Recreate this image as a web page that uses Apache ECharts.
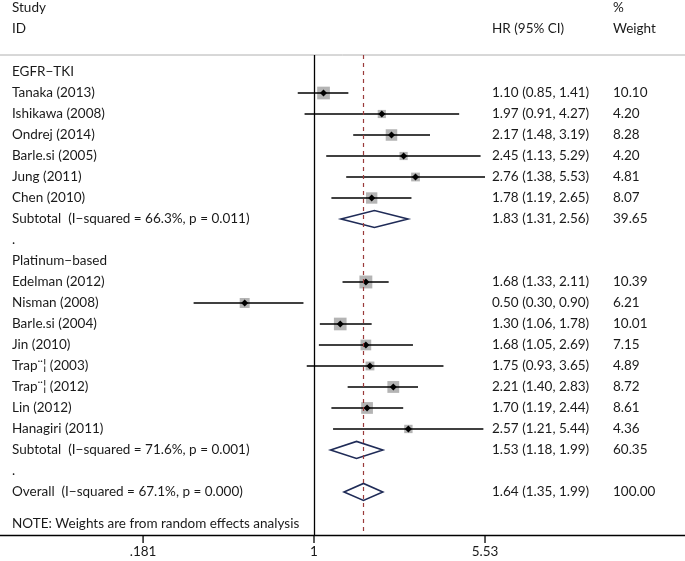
<!DOCTYPE html>
<html><head><meta charset="utf-8">
<script src="https://cdn.jsdelivr.net/npm/echarts@6/dist/echarts.min.js"></script>
<style>html,body{margin:0;padding:0;background:#fff}#c{width:685px;height:561px}</style>
</head><body><div id="c"></div>
<script>
const labels = ["EGFR\u2212TKI","Tanaka (2013)","Ishikawa (2008)","Ondrej (2014)","Barle.si (2005)","Jung (2011)","Chen (2010)",
  "Subtotal  (I\u2212squared = 66.3%, p = 0.011)",".","Platinum\u2212based","Edelman (2012)","Nisman (2008)","Barle.si (2004)",
  "Jin (2010)","Trap\u00a8\u00a6 (2003)","Trap\u00a8\u00a6 (2012)","Lin (2012)","Hanagiri (2011)",
  "Subtotal  (I\u2212squared = 71.6%, p = 0.001)",".","Overall  (I\u2212squared = 67.1%, p = 0.000)"];
const rowTypes = ["group","study","study","study","study","study","study","subtotal","blank","group",
  "study","study","study","study","study","study","study","study","subtotal","blank","overall"];
const hr = [null,1.10,1.97,2.17,2.45,2.76,1.78,1.83,null,null,1.68,0.50,1.30,1.68,1.75,2.21,1.70,2.57,1.53,null,1.64];
const lo = [null,0.85,0.91,1.48,1.13,1.38,1.19,1.31,null,null,1.33,0.30,1.06,1.05,0.93,1.40,1.19,1.21,1.18,null,1.35];
const hi = [null,1.41,4.27,3.19,5.29,5.53,2.65,2.56,null,null,2.11,0.90,1.78,2.69,3.65,2.83,2.44,5.44,1.99,null,1.99];
const weights = [null,10.10,4.20,8.28,4.20,4.81,8.07,39.65,null,null,10.39,6.21,10.01,7.15,4.89,8.72,8.61,4.36,60.35,null,100.00];
const tickValues = [0.181, 1, 5.53];
const tickLabels = [".181", "1", "5.53"];
const noteText = "NOTE: Weights are from random effects analysis";
const overallHR = 1.64;
const noteRow = 21.5;

const FONT_FAMILY = 'Lato';
const FS = 13.5;
const TXT = '#1a1a1a';
const X_LABEL = 12, X_HR = 492, X_W = 613;
const Y_MIN = -0.81, Y_MAX = 22.05;

const chart = echarts.init(document.getElementById('c'), null, {renderer: 'canvas'});

const data = labels.map((l, i) => [hr[i] != null ? Math.log(hr[i]) : 0, i]);
data.push([0, noteRow]);

function txt(text, x, y) {
  return {type: 'text', style: {text: text, x: x, y: y, textAlign: 'left', textVerticalAlign: 'middle',
    fontFamily: FONT_FAMILY, fontSize: FS, fill: TXT}};
}

function renderItem(params, api) {
  const i = params.dataIndex;
  const children = [];
  if (i >= labels.length) {
    const y = api.coord([0, noteRow])[1];
    children.push(txt(noteText, X_LABEL, y));
    return {type: 'group', children: children};
  }
  const y = api.coord([0, i])[1];
  children.push(txt(labels[i], X_LABEL, y));
  if (hr[i] != null) {
    children.push(txt(hr[i].toFixed(2) + ' (' + lo[i].toFixed(2) + ', ' + hi[i].toFixed(2) + ')', X_HR, y));
    children.push(txt(weights[i].toFixed(2), X_W, y));
    const pM = api.coord([Math.log(hr[i]), i])[0];
    const pL = api.coord([Math.log(lo[i]), i])[0];
    const pH = api.coord([Math.log(hi[i]), i])[0];
    if (rowTypes[i] === 'study') {
      const s = 4 * Math.sqrt(weights[i]);
      children.push({type: 'rect', shape: {x: pM - s / 2, y: y - s / 2, width: s, height: s},
        style: {fill: '#b4b4b4'}});
      children.push({type: 'line', shape: {x1: pL, y1: y, x2: pH, y2: y},
        style: {stroke: '#000', lineWidth: 1.6}});
      children.push({type: 'polygon', shape: {points: [[pM - 3.5, y], [pM, y - 3.5], [pM + 3.5, y], [pM, y + 3.5]]},
        style: {fill: '#000'}});
    } else {
      children.push({type: 'polygon', shape: {points: [[pL, y], [pM, y - 8.5], [pH, y], [pM, y + 8.5]]},
        style: {fill: 'rgba(255,255,255,0)', stroke: '#1f2b57', lineWidth: 1.6}});
    }
  }
  return {type: 'group', children: children};
}

function renderTick(params, api) {
  const p = api.coord([api.value(0), Y_MAX]);
  return {type: 'line', shape: {x1: p[0], y1: p[1], x2: p[0], y2: p[1] + 8},
    style: {stroke: '#000', lineWidth: 1.3}};
}

function hdr(text, x, y) {
  return {type: 'text', left: x, top: y, style: {text: text, fontFamily: FONT_FAMILY, fontSize: FS, fill: TXT}};
}

const logTicks = tickValues.map(Math.log);

chart.setOption({
  animation: false,
  grid: {left: 0, right: 0, top: 55, bottom: 26},
  xAxis: {
    type: 'value', min: -3.14, max: 3.71,
    splitLine: {show: false},
    axisLine: {onZero: false, lineStyle: {color: '#000', width: 1.3}},
    axisTick: {show: false},
    axisLabel: {customValues: logTicks, margin: 10, fontFamily: FONT_FAMILY, fontSize: FS, color: TXT,
      formatter: function (v) {
        let best = 0;
        logTicks.forEach((t, k) => { if (Math.abs(t - v) < Math.abs(logTicks[best] - v)) best = k; });
        return tickLabels[best];
      }}
  },
  yAxis: {type: 'value', inverse: true, min: Y_MIN, max: Y_MAX, show: false},
  graphic: [
    hdr('Study', 12, 1), hdr('ID', 12, 22), hdr('%', X_W, 1), hdr('HR (95% CI)', X_HR, 22), hdr('Weight', X_W, 22),
    {type: 'line', shape: {x1: 0, y1: 55, x2: 685, y2: 55}, style: {stroke: '#b0b0b0', lineWidth: 1}}
  ],
  series: [{
    type: 'custom', renderItem: renderItem, data: data, clip: false,
    encode: {x: 0, y: 1},
    silent: true,
    markLine: {
      silent: true, symbol: 'none', label: {show: false},
      data: [
        {xAxis: 0, lineStyle: {color: '#000', width: 1.3, type: 'solid'}},
        {xAxis: Math.log(overallHR), lineStyle: {color: '#9a3b3b', width: 1.2, type: [4, 4]}}
      ]
    }
  }, {
    type: 'custom', renderItem: renderTick, clip: false, silent: true,
    data: logTicks.map(t => [t, Y_MAX]), encode: {x: 0, y: 1}
  }]
});
</script></body></html>
